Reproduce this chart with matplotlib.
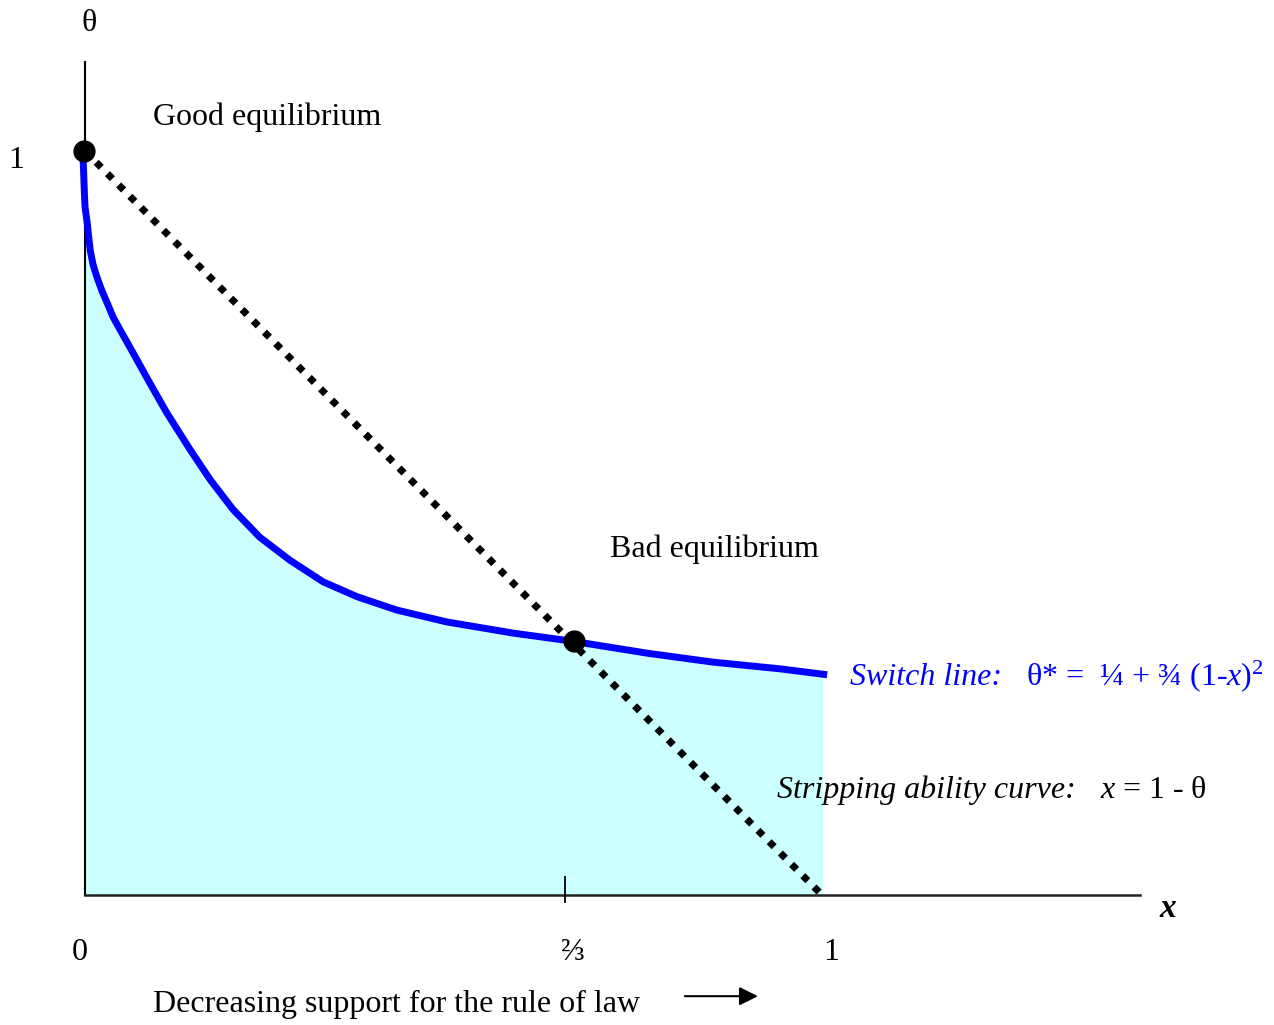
import matplotlib.pyplot as plt

plt.rcParams["font.family"] = ["Liberation Serif", "DejaVu Serif"]
plt.rcParams["mathtext.fontset"] = "custom"
plt.rcParams["mathtext.rm"] = "Liberation Serif"
plt.rcParams["mathtext.it"] = "Liberation Serif:italic"

# switch line (hand-drawn in the original)
switch_x = [-0.003, -0.002, -0.001, 0.000, 0.003, 0.007, 0.011, 0.016, 0.023,
            0.030, 0.038, 0.048, 0.065, 0.088, 0.111, 0.143, 0.170, 0.201,
            0.237, 0.278, 0.323, 0.369, 0.423, 0.491, 0.581, 0.662, 0.763,
            0.852, 0.943, 1.007]
switch_theta = [0.999, 0.975, 0.948, 0.925, 0.903, 0.867, 0.847, 0.831, 0.812,
                0.796, 0.777, 0.759, 0.729, 0.688, 0.648, 0.598, 0.558, 0.518,
                0.481, 0.450, 0.421, 0.401, 0.383, 0.367, 0.352, 0.341, 0.325,
                0.313, 0.304, 0.296]

# stripping ability curve x = 1 - theta
strip_x = [0.0, 1.0]
strip_theta = [1.0, 0.0]

# equilibria
eq_x = [-0.002, 0.663]
eq_theta = [1.0, 0.341]

tick_x = 0.651
x_labels = ["0", "\u2154", "1"]
x_label_pos = [-0.007, 0.662, 1.013]

fig = plt.figure(figsize=(12.74, 10.25), dpi=100)
ax = fig.add_axes([85 / 1274, 130 / 1025, 737 / 1274, 744 / 1025])
ax.set_xlim(0, 1)
ax.set_ylim(0, 1)
ax.axis("off")

# shaded region under the switch line, clipped at x = 1 by the axes
ax.fill_between(switch_x, 0, switch_theta, color="#ccffff", lw=0, zorder=1)
ax.plot(switch_x, switch_theta, color="#0000ff", lw=5, zorder=3,
        solid_capstyle="butt", solid_joinstyle="round", clip_on=False)
ax.plot(strip_x, strip_theta, color="black", lw=5.1, zorder=4,
        linestyle=(0, (1, 1.25)), dash_capstyle="butt", clip_on=False)
ax.plot(eq_x, eq_theta, "o", color="black", ms=15, zorder=5, clip_on=False)

# axis lines
ax.plot([0, 0], [0, 1.12], color="black", lw=1.5, clip_on=False, zorder=2)
ax.plot([0, 1.431], [0, 0], color="#222222", lw=1.8, clip_on=False, zorder=2)
ax.plot([tick_x, tick_x], [-0.0094, 0.024], color="black", lw=1.3, clip_on=False)

fs = 23
ax.text(0.0054, 1.161, "\u03b8", fontsize=fs, ha="center", va="baseline")
ax.text(-0.094, 0.977, "1", fontsize=fs, ha="center", va="baseline")
for xp, lab in zip(x_label_pos, x_labels):
    ax.text(xp, -0.087, lab, fontsize=fs, ha="center", va="baseline")
ax.text(1.469, -0.030, "x", fontsize=fs + 1, fontweight="bold", style="italic",
        ha="center", va="baseline")

ax.text(0.092, 1.035, "Good equilibrium", fontsize=fs, va="baseline")
ax.text(0.712, 0.454, "Bad equilibrium", fontsize=fs, va="baseline")

t1 = ax.text(1.038, 0.282, "Switch line:", fontsize=fs, style="italic",
             color="#0000ff", va="baseline")
ax.annotate("   \u03b8* =  \u00bc + \u00be (1-$x$)$^2$", xy=(1, 0.282),
            xycoords=(t1, "data"), fontsize=fs, color="#0000ff",
            va="baseline", ha="left", annotation_clip=False)

t2 = ax.text(0.939, 0.130, "Stripping ability curve:", fontsize=fs,
             style="italic", va="baseline")
ax.annotate("   $x$ = 1 - \u03b8", xy=(1, 0.130), xycoords=(t2, "data"),
            fontsize=fs, va="baseline", ha="left", annotation_clip=False)

ax.text(0.092, -0.157, "Decreasing support for the rule of law", fontsize=fs,
        va="baseline")
ax.annotate("", xy=(0.913, -0.136), xytext=(0.814, -0.136),
            arrowprops=dict(arrowstyle="-|>", color="black", lw=1.5,
                            mutation_scale=28, shrinkA=0, shrinkB=0),
            annotation_clip=False)

fig.savefig("out.png", dpi=100)
